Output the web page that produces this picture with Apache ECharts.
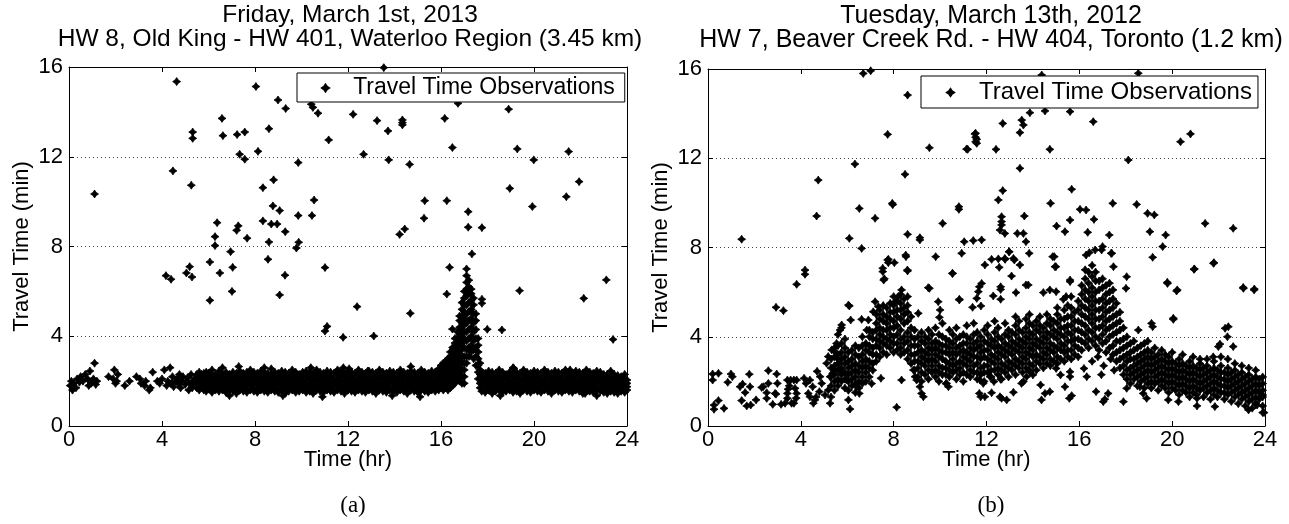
<!DOCTYPE html>
<html>
<head>
<meta charset="utf-8">
<script src="https://cdn.jsdelivr.net/npm/echarts@6.0.0/dist/echarts.min.js"></script>
<style>html,body{margin:0;padding:0;background:#fff}#c{width:1289px;height:524px}</style>
</head>
<body>
<div id="c"></div>
<script>
// ---------- tick labels ----------
const xTicks = [0, 4, 8, 12, 16, 20, 24];
const yTicks = [0, 4, 8, 12, 16];
const titleA = 'Friday, March 1st, 2013\nHW 8, Old King - HW 401, Waterloo Region (3.45 km)';
const titleB = 'Tuesday, March 13th, 2012\nHW 7, Beaver Creek Rd. - HW 404, Toronto (1.2 km)';
const seriesName = 'Travel Time Observations';

// ---------- panel (a) values: [hr, min] ----------
const sparseA = [[0.05,1.8],[0.1,2.0],[0.15,1.6],[0.2,1.9],[0.3,1.7],[0.35,2.1],[0.45,1.95],[0.5,2.2],[0.6,2.0],[0.7,2.3],[0.8,2.1],[0.85,1.8],[0.9,2.45],[0.95,1.9],[1.0,2.0],[1.05,2.1],[1.1,2.8],[1.15,1.85],[1.2,2.0],[1.7,2.2],[1.9,2.1],[1.95,2.5],[2.0,1.9],[2.05,2.0],[2.1,2.3],[2.4,1.8],[2.6,2.0],[2.9,2.2],[3.05,2.1],[3.1,1.9],[3.25,1.8],[3.3,2.0],[3.45,1.6],[3.5,1.7],[3.6,2.4],[3.8,2.0],[3.9,1.9],[4.0,2.1],[4.1,2.5],[4.2,1.8],[4.25,2.0],[4.35,2.6],[4.4,1.9],[4.45,2.2],[4.5,1.75],[4.6,2.0],[4.65,2.1],[4.7,1.9],[4.75,2.3],[4.8,1.7],[4.85,2.0],[4.9,2.2],[5.0,1.85],[5.05,2.0],[5.1,2.15],[5.15,1.6],[5.2,1.9],[5.25,2.3],[5.3,1.7],[5.35,2.0],[5.4,2.1],[5.45,1.8]];
// rows: [hr, value, value, ...]
const bandA = [
[5.5,1.7,1.9,2.1,2.3],[5.6,1.6,1.8,2.0,2.2,2.4],[5.7,1.75,1.95,2.1,2.3],[5.8,1.6,1.8,1.95,2.15,2.35],[5.9,1.55,1.7,1.9,2.05,2.25,2.4],[6.0,1.65,1.85,2.0,2.2,2.35],
[6.15,1.5,1.7,1.9,2.1,2.3,2.5],[6.3,1.6,1.75,1.95,2.15,2.3],[6.45,1.55,1.7,1.9,2.0,2.2,2.45],[6.6,1.6,1.8,1.95,2.1,2.3,2.6],[6.75,1.5,1.7,1.85,2.05,2.25,2.4],[6.9,1.6,1.75,1.95,2.1,2.3],
[7.05,1.55,1.7,1.9,2.05,2.2,2.4],[7.2,1.45,1.65,1.8,2.0,2.15,2.35],[7.35,1.6,1.75,1.9,2.1,2.25,2.45],[7.5,1.55,1.7,1.85,2.05,2.2,2.35],[7.65,1.5,1.65,1.85,2.0,2.2,2.4],[7.8,1.6,1.8,1.95,2.1,2.3,2.5],
[7.95,1.55,1.7,1.9,2.05,2.25,2.4],[8.1,1.5,1.65,1.85,2.0,2.15,2.35],[8.25,1.6,1.75,1.9,2.1,2.25,2.45],[8.4,1.55,1.7,1.85,2.0,2.2,2.4],[8.55,1.5,1.65,1.85,2.05,2.2,2.35],[8.7,1.6,1.75,1.9,2.1,2.3,2.55],
[8.85,1.55,1.7,1.9,2.05,2.2,2.4],[9.0,1.5,1.65,1.85,2.0,2.2,2.35],[9.15,1.6,1.8,1.95,2.1,2.3,2.45],[9.3,1.45,1.7,1.85,2.05,2.2,2.4],[9.45,1.55,1.7,1.9,2.0,2.15,2.35],[9.6,1.6,1.75,1.9,2.1,2.25,2.5],
[9.75,1.5,1.65,1.85,2.05,2.2,2.4],[9.9,1.55,1.75,1.9,2.1,2.3],[10.05,1.6,1.7,1.85,2.0,2.2,2.4],[10.2,1.5,1.65,1.85,2.05,2.25,2.45],[10.35,1.55,1.75,1.9,2.1,2.25,2.4],[10.5,1.45,1.6,1.8,2.0,2.15,2.35],
[10.65,1.6,1.75,1.95,2.1,2.3,2.5],[10.8,1.55,1.7,1.85,2.05,2.2,2.4],[10.95,1.5,1.65,1.85,2.0,2.2,2.35],[11.1,1.6,1.75,1.9,2.1,2.25,2.45],[11.25,1.55,1.7,1.9,2.05,2.2,2.4],[11.4,1.5,1.65,1.85,2.0,2.15,2.35],
[11.55,1.6,1.8,1.95,2.1,2.3,2.5],[11.7,1.55,1.7,1.85,2.05,2.25,2.4],[11.85,1.45,1.65,1.8,2.0,2.2,2.35],[12.0,1.6,1.75,1.9,2.1,2.25,2.45],[12.15,1.55,1.7,1.9,2.05,2.2,2.4],[12.3,1.5,1.65,1.85,2.0,2.15,2.35],
[12.45,1.6,1.75,1.95,2.1,2.3,2.5],[12.6,1.55,1.7,1.85,2.05,2.2,2.4],[12.75,1.5,1.65,1.85,2.0,2.2,2.35],[12.9,1.6,1.8,1.95,2.1,2.3,2.45],[13.05,1.55,1.7,1.9,2.05,2.25,2.4],[13.2,1.45,1.65,1.8,2.0,2.15,2.35],
[13.35,1.6,1.75,1.9,2.1,2.25,2.5],[13.5,1.55,1.7,1.85,2.05,2.2,2.4],[13.65,1.5,1.65,1.85,2.0,2.2,2.35],[13.8,1.6,1.75,1.95,2.1,2.3,2.45],[13.95,1.55,1.7,1.9,2.05,2.2,2.4],[14.1,1.5,1.65,1.85,2.0,2.15,2.35],
[14.25,1.6,1.8,1.95,2.1,2.3,2.5],[14.4,1.55,1.7,1.85,2.05,2.25,2.4],[14.55,1.45,1.65,1.8,2.0,2.2,2.35],[14.7,1.6,1.75,1.9,2.1,2.25,2.45],[14.85,1.55,1.7,1.9,2.05,2.2,2.4],[15.0,1.5,1.65,1.85,2.0,2.15,2.35],
[15.15,1.6,1.75,1.95,2.1,2.3,2.5],[15.3,1.55,1.7,1.85,2.05,2.2,2.4],[15.45,1.5,1.65,1.85,2.0,2.2,2.35],[15.6,1.6,1.8,1.95,2.1,2.3,2.45],[15.75,1.55,1.7,1.9,2.05,2.25,2.4],[15.9,1.6,1.75,1.9,2.1,2.3,2.55],
[17.75,1.55,1.7,1.9,2.05,2.2,2.4],[17.9,1.5,1.65,1.85,2.0,2.2,2.35],[18.05,1.6,1.75,1.95,2.1,2.3,2.45],[18.2,1.45,1.7,1.85,2.05,2.2,2.4],[18.35,1.55,1.7,1.9,2.0,2.15,2.35],[18.5,1.6,1.75,1.9,2.1,2.25,2.5],
[18.65,1.5,1.65,1.85,2.05,2.2,2.4],[18.8,1.55,1.75,1.9,2.1,2.3],[18.95,1.6,1.7,1.85,2.0,2.2,2.4],[19.1,1.5,1.65,1.85,2.05,2.25,2.45],[19.25,1.55,1.75,1.9,2.1,2.25,2.4],[19.4,1.45,1.6,1.8,2.0,2.15,2.35],
[19.55,1.6,1.75,1.95,2.1,2.3,2.5],[19.7,1.55,1.7,1.85,2.05,2.2,2.4],[19.85,1.5,1.65,1.85,2.0,2.2,2.35],[20.0,1.6,1.75,1.9,2.1,2.25,2.45],[20.15,1.55,1.7,1.9,2.05,2.2,2.4],[20.3,1.5,1.65,1.85,2.0,2.15,2.35],
[20.45,1.6,1.8,1.95,2.1,2.3,2.5],[20.6,1.55,1.7,1.85,2.05,2.25,2.4],[20.75,1.45,1.65,1.8,2.0,2.2,2.35],[20.9,1.6,1.75,1.9,2.1,2.25,2.45],[21.05,1.55,1.7,1.9,2.05,2.2,2.4],[21.2,1.5,1.65,1.85,2.0,2.15,2.35],
[21.35,1.6,1.75,1.95,2.1,2.3,2.5],[21.5,1.55,1.7,1.85,2.05,2.2,2.4],[21.65,1.5,1.65,1.85,2.0,2.2,2.35],[21.8,1.6,1.8,1.95,2.1,2.3,2.45],[21.95,1.55,1.7,1.9,2.05,2.25,2.4],[22.1,1.45,1.65,1.8,2.0,2.15,2.35],
[22.25,1.6,1.75,1.9,2.1,2.25,2.5],[22.4,1.55,1.7,1.85,2.05,2.2,2.4],[22.55,1.5,1.65,1.85,2.0,2.2,2.35],[22.7,1.6,1.75,1.95,2.1,2.3,2.45],[22.85,1.55,1.7,1.9,2.05,2.2,2.4],[23.0,1.5,1.65,1.85,2.0,2.15,2.3],
[23.15,1.45,1.6,1.8,1.95,2.1,2.3],[23.3,1.55,1.7,1.85,2.0,2.2,2.45],[23.45,1.5,1.65,1.8,1.95,2.1,2.3],[23.6,1.45,1.6,1.75,1.9,2.05,2.25],[23.75,1.55,1.7,1.85,2.0,2.2],[23.9,1.5,1.65,1.8,1.95,2.1,2.3],[24.0,1.6,1.75,1.9,2.05]
];
const bandExtraA = [[11.8,2.6],[12.05,2.55],[12.85,2.45],[15.1,1.3],[18.55,1.35],[19.1,2.6],[21.55,2.5],[22.2,1.45],[22.7,1.35],[9.2,1.35],[10.4,2.6],[7.3,2.65],[8.4,2.6],[13.9,1.35],[6.9,1.35],[14.7,2.65],[10.9,1.3]];
const peakA = [
[16.0,1.7,1.9,2.1,2.3,2.5,2.7],[16.1,1.6,1.8,2.0,2.2,2.4,2.6,2.8],[16.2,1.7,1.9,2.1,2.3,2.6,2.9],[16.3,1.6,1.8,2.0,2.2,2.4,2.7,3.0],
[16.4,1.7,1.9,2.1,2.3,2.5,2.8,3.1,3.3],[16.5,1.8,2.0,2.3,2.6,2.9,3.2,3.5],[16.6,1.9,2.2,2.5,2.8,3.1,3.4,3.7,3.9],[16.7,2.1,2.4,2.7,3.0,3.3,3.6,3.9,4.2],
[16.8,2.0,2.3,2.6,2.9,3.2,3.5,3.8,4.1,4.4,4.7,4.9],[16.9,1.9,2.2,2.5,2.8,3.1,3.4,3.7,4.0,4.3,4.6,4.9,5.2,5.5],[17.0,1.9,2.2,2.5,2.8,3.1,3.5,3.9,4.2,4.5,4.8,5.1,5.4,5.7,6.0],
[17.1,2.8,3.1,3.4,3.8,4.2,4.6,5.0,5.4,5.8,6.1,6.4,6.7,7.0],[17.2,3.1,3.5,3.9,4.3,4.7,5.1,5.5,5.9,6.2,6.5],[17.3,3.3,3.6,4.0,4.4,4.8,5.2,5.6,5.9,6.1],
[17.4,3.0,3.4,3.8,4.2,4.6,5.0,5.4,5.7],[17.5,2.7,3.1,3.5,3.9,4.3,4.7,5.0],[17.6,2.1,2.4,2.7,3.0,3.3,3.6,3.9],[17.68,1.7,1.9,2.1,2.3,2.5,2.8]
];
const outA = [[1.1,10.34],[4.63,15.35],[4.47,11.37],[4.17,6.7],[4.39,6.54],[5.05,6.82],[5.19,7.1],[5.29,6.64],[5.26,10.73],[5.32,13.1],[5.32,12.82],[6.06,5.6],[6.06,7.31],[6.28,8.04],[6.28,8.44],[6.37,9.06],[6.49,6.82],[6.58,13.71],[6.62,12.94],[6.95,7.77],[7.04,7.07],[7.01,6.0],[7.21,8.72],[7.28,8.92],[7.23,12.99],[7.34,12.11],[7.56,11.89],[7.56,13.1],[7.66,8.37],[8.04,15.13],[8.13,12.24],[8.34,10.62],[8.34,9.14],[8.6,13.25],[8.6,8.2],[8.56,7.43],[8.77,9.81],[8.8,10.97],[8.7,9.0],[8.95,9.0],[8.99,14.53],[9.06,9.6],[9.06,5.84],[9.29,6.72],[9.3,8.66],[9.32,14.15],[9.78,7.93],[9.88,8.19],[9.86,9.38],[9.86,11.74],[10.45,9.38],[10.54,10.07],[10.42,14.34],[10.49,14.2],[10.71,13.94],[11.01,7.06],[11.01,4.23],[11.1,4.44],[11.17,12.75],[12.22,13.89],[12.67,12.11],[12.39,5.32],[11.79,3.95],[13.11,4.01],[13.25,13.61],[13.54,15.97],[13.72,13.15],[13.75,11.86],[14.34,13.64],[14.34,13.52],[14.34,13.42],[14.22,8.54],[14.44,8.78],[14.65,11.66],[14.68,5.02],[15.3,10.04],[15.27,9.26],[16.16,13.71],[16.25,10.04],[16.49,12.41],[16.37,7.07],[16.25,5.88],[16.49,4.32],[16.73,14.38],[17.33,7.67],[17.17,9.55],[17.17,8.86],[17.76,8.84],[17.76,5.47],[17.76,5.65],[17.99,4.31],[18.62,4.28],[18.91,14.12],[18.96,10.59],[19.28,12.35],[19.38,6.03],[19.13,2.57],[19.99,11.86],[19.93,9.78],[21.39,10.22],[21.49,12.23],[21.94,10.89],[22.14,5.69],[23.11,6.51],[23.4,3.86]];

// ---------- panel (b) values ----------
const sparseB = [[0.2,2.33],[0.2,2.06],[0.45,2.36],[0.26,0.94],[0.26,0.75],[0.45,1.14],[0.69,0.79],[0.85,1.96],[0.99,2.33],[1.05,2.21],[1.38,1.76],[1.49,1.88],[1.6,1.5],[1.67,0.9],[1.78,2.32],[1.81,1.76],[1.45,1.14],[1.84,0.94],[2.07,1.17],[2.31,1.73],[2.38,1.76],[2.6,2.48],[2.6,1.91],[2.53,1.49],[2.53,1.24],[2.79,0.97],[2.89,1.46],[2.96,2.33],[2.99,1.91],[2.93,1.43],[3.15,0.97],[3.32,1.02],[3.42,2.06],[3.56,2.06],[3.7,2.06],[3.82,2.06],[3.42,1.46],[3.42,1.24],[3.6,1.02],[3.7,1.02],[3.75,1.69],[3.82,1.46],[3.5,1.8],[3.45,1.65],[3.8,1.25],[4.14,2.14],[4.22,1.91],[4.39,2.06],[4.51,1.76],[4.32,1.46],[4.39,1.31],[4.61,1.17],[4.54,1.02],[4.8,1.54],[4.83,2.21],[4.9,1.91],[4.7,2.45],[4.66,1.3],[5.04,1.39],[5.18,1.61],[5.26,1.02],[5.26,2.21],[5.37,2.36],[5.47,2.51],[5.11,2.81],[5.18,3.11],[5.33,3.41],[5.54,3.7],[5.47,3.33],[5.57,3.03],[5.69,4.3],[5.76,4.53],[5.62,2.81],[5.69,2.51],[5.97,2.06],[6.05,1.17],[6.12,0.76],[6.15,4.75]];
const cloudB = [
[5.3,1.3,1.8,2.2,2.6,3.0],[5.45,1.6,2.0,2.3,2.7,3.1,3.5],[5.6,1.8,2.1,2.5,2.8,3.2,3.6,4.1],[5.75,2.0,2.3,2.6,3.0,3.3,3.7,4.4],[5.9,1.7,2.1,2.4,2.8,3.1,3.5,3.9],
[6.05,1.6,2.0,2.3,2.6,2.9,3.3],[6.2,1.8,2.1,2.4,2.7,3.0,3.4],[6.35,1.5,1.9,2.2,2.5,2.8,3.2,3.6],[6.5,1.7,2.0,2.4,2.7,3.1,3.5],[6.65,1.9,2.2,2.6,2.9,3.2,3.6,4.0],
[6.8,2.0,2.4,2.7,3.0,3.4,3.7],[6.95,2.2,2.6,2.9,3.3,3.6,4.0,4.3],[7.1,2.5,2.8,3.2,3.5,3.9,4.2],[7.25,2.9,3.2,3.6,3.9,4.3,4.6,5.0],[7.4,3.1,3.5,3.8,4.1,4.4,4.8,5.2],
[7.55,3.3,3.7,4.0,4.3,4.7,5.0,5.4],[7.7,3.2,3.6,3.9,4.3,4.6,4.9,5.3],[7.85,3.5,3.8,4.1,4.4,4.8,5.1,5.5],[8.0,3.3,3.7,4.0,4.4,4.7,5.1,5.4,5.8],[8.15,3.4,3.7,4.1,4.5,4.9,5.2,5.6],
[8.3,3.2,3.5,3.9,4.3,4.8,5.2,5.5,5.9],[8.45,3.3,3.7,4.0,4.6,5.0,5.3,5.7],[8.6,3.0,3.4,3.8,4.2,4.7,5.1,5.4,5.8],[8.75,2.8,3.2,3.6,4.0,4.4,4.9],[8.9,2.5,2.9,3.2,3.6,3.9,4.3],
[9.05,2.2,2.6,2.9,3.3,3.6,4.0],[9.2,2.0,2.4,2.8,3.1,3.4,3.8,4.2],[9.35,2.3,2.7,3.0,3.3,3.7,4.0],[9.5,2.1,2.5,2.9,3.2,3.5,3.9,4.3],[9.65,2.4,2.7,3.0,3.4,3.7,4.1],
[9.8,2.2,2.5,2.9,3.2,3.5,3.8,4.4],[9.95,2.0,2.4,2.7,3.1,3.4,3.7,4.1],[10.1,2.3,2.6,3.0,3.3,3.6,4.0,4.6],[10.25,1.9,2.3,2.6,2.9,3.3,3.6,3.9],[10.4,2.2,2.5,2.8,3.2,3.5,3.8,4.3],
[10.55,2.4,2.7,3.0,3.3,3.7,4.1],[10.7,2.1,2.5,2.8,3.2,3.5,3.9,4.4],[10.85,2.3,2.6,2.9,3.3,3.6,4.0],[11.0,2.0,2.4,2.8,3.1,3.4,3.7,4.1],[11.15,2.3,2.7,3.0,3.3,3.7,4.0,4.5],
[11.3,2.2,2.5,2.9,3.2,3.5,3.9],[11.45,2.4,2.7,3.1,3.4,3.7,4.1,4.6],[11.6,2.1,2.4,2.8,3.1,3.5,3.8,4.2],[11.75,2.3,2.6,3.0,3.3,3.6,4.0],[11.9,2.0,2.4,2.7,3.1,3.4,3.8,4.3],
[12.05,2.4,2.7,3.0,3.4,3.7,4.1,4.5],[12.2,2.2,2.5,2.9,3.2,3.6,3.9],[12.35,2.5,2.8,3.1,3.5,3.8,4.2,4.7],[12.5,2.3,2.6,3.0,3.3,3.6,4.0,4.4],[12.65,2.1,2.5,2.8,3.2,3.5,3.9],
[12.8,2.4,2.7,3.1,3.4,3.7,4.1,4.6],[12.95,2.2,2.6,2.9,3.3,3.6,4.0,4.3],[13.1,2.5,2.8,3.2,3.5,3.8,4.2],[13.25,2.3,2.7,3.0,3.4,3.7,4.1,4.5,4.9],[13.4,2.6,2.9,3.3,3.6,3.9,4.3,4.7],
[13.55,2.4,2.8,3.1,3.5,3.8,4.2],[13.7,2.6,3.0,3.3,3.7,4.0,4.4,4.8],[13.85,2.5,2.8,3.2,3.5,3.9,4.2,4.6,5.0],[14.0,2.7,3.1,3.4,3.7,4.1,4.5],[14.15,2.5,2.9,3.2,3.6,3.9,4.3,4.7],
[14.3,2.8,3.1,3.5,3.8,4.2,4.5,4.9],[14.45,2.6,3.0,3.3,3.7,4.0,4.4],[14.6,2.8,3.2,3.5,3.9,4.2,4.6,5.0],[14.75,2.7,3.0,3.4,3.7,4.1,4.5,4.8],[14.9,2.9,3.3,3.6,4.0,4.3,4.7],
[15.05,2.8,3.1,3.5,3.9,4.2,4.6,5.0,5.3],[15.2,3.0,3.4,3.7,4.1,4.4,4.8],[15.35,2.9,3.3,3.6,4.0,4.4,4.8,5.2],[15.5,3.1,3.4,3.8,4.2,4.5,4.9,5.4],[15.65,3.0,3.4,3.8,4.1,4.5,4.9,5.3,5.8],
[15.8,3.2,3.6,3.9,4.3,4.7,5.1],[15.95,3.1,3.5,3.9,4.3,4.7,5.2,5.6],[16.1,3.4,3.8,4.2,4.6,5.0,5.4,5.9,6.3],[16.25,3.7,4.1,4.5,4.9,5.3,5.7,6.1,6.6,7.0],[16.4,3.5,3.9,4.3,4.8,5.2,5.6,6.0,6.4,6.9],
[16.55,3.8,4.2,4.6,5.0,5.4,5.8,6.2,6.7,7.2],[16.7,3.6,4.0,4.4,4.8,5.2,5.6,6.0,6.5,6.9],[16.85,3.4,3.9,4.4,4.8,5.2,5.6,6.1,6.5],[17.0,3.7,4.1,4.5,4.9,5.3,5.7,6.2,6.6],[17.15,3.3,3.8,4.3,4.7,5.1,5.5,5.9,6.3],
[17.3,3.5,4.0,4.4,4.8,5.2,5.6,6.0,6.4],[17.45,3.2,3.6,4.1,4.5,4.9,5.3,5.7,6.1],[17.6,2.9,3.3,3.8,4.2,4.6,5.0,5.5],[17.75,2.6,3.0,3.4,3.8,4.3,4.7,5.1],[17.9,2.3,2.7,3.1,3.5,3.9,4.4],
[18.05,2.1,2.5,2.9,3.2,3.6,4.0],[18.2,1.9,2.3,2.6,3.0,3.3,3.7],[18.35,2.1,2.4,2.7,3.0,3.4,3.8],[18.5,1.8,2.2,2.5,2.8,3.1,3.5],[18.65,2.0,2.3,2.6,2.9,3.2,3.6],
[18.8,1.7,2.1,2.4,2.7,3.0,3.3,3.7],[18.95,1.9,2.2,2.5,2.8,3.1,3.4,3.8],[19.1,1.7,2.0,2.4,2.7,3.0,3.3],[19.25,1.9,2.2,2.5,2.8,3.1,3.5],[19.4,1.6,2.0,2.3,2.6,2.9,3.2],
[19.55,1.8,2.1,2.4,2.7,3.0,3.4],[19.7,1.7,2.0,2.3,2.6,2.9,3.2],[19.85,1.5,1.9,2.2,2.5,2.8,3.1],[20.0,1.7,2.0,2.3,2.6,2.9,3.3],[20.15,1.6,1.9,2.2,2.5,2.8],
[20.3,1.4,1.8,2.1,2.4,2.7,3.0],[20.45,1.6,1.9,2.2,2.5,2.8,3.2],[20.6,1.5,1.8,2.1,2.4,2.7],[20.75,1.3,1.7,2.0,2.3,2.6,2.9],[20.9,1.5,1.8,2.1,2.4,2.7,3.1],
[21.05,1.4,1.7,2.0,2.3,2.6],[21.2,1.6,1.9,2.2,2.5,2.8,3.0],[21.35,1.3,1.7,2.0,2.3,2.6],[21.5,1.5,1.8,2.1,2.4,2.7,3.0],[21.65,1.2,1.6,1.9,2.2,2.5],
[21.8,1.4,1.7,2.0,2.3,2.6,2.9],[21.95,1.3,1.6,1.9,2.2,2.5],[22.1,1.5,1.8,2.1,2.4,2.7,3.1],[22.25,1.2,1.5,1.8,2.1,2.4],[22.4,1.4,1.7,2.0,2.3,2.6,3.0],
[22.55,1.1,1.5,1.8,2.1,2.4],[22.7,1.3,1.6,1.9,2.2,2.5,2.8],[22.85,1.0,1.4,1.7,2.0,2.3],[23.0,1.2,1.5,1.8,2.1,2.4,2.7],[23.15,0.9,1.3,1.6,1.9,2.2],
[23.3,1.1,1.4,1.7,2.0,2.3,2.6],[23.45,0.8,1.2,1.5,1.8,2.1],[23.6,1.0,1.3,1.6,1.9,2.2,2.5],[23.75,1.2,1.5,1.8,2.1],[23.9,0.6,0.9,1.3,1.6,1.9,2.2]
];
const midB = [[11.93,7.22],[12.22,7.47],[12.55,7.11],[12.8,7.47],[12.97,7.81],[13.16,7.51],[13.2,7.44],[13.44,7.22],[13.08,6.72],[13.7,6.32],[12.61,6.24],[12.61,6.12],[13.27,5.98],[12.29,5.83],[12.61,5.68],[13.84,7.74],[14.85,7.59],[14.95,7.14],[14.45,5.98],[14.73,6.1],[15.0,6.02],[15.6,6.54],[15.6,6.47],[15.31,5.68],[15.43,5.8],[16.29,7.66],[16.43,7.77],[16.68,7.89],[17.0,8.04],[17.4,7.74],[17.47,7.14],[18.04,6.69],[18.01,6.17],[18.54,4.3],[19.11,4.6],[19.16,4.45],[19.8,6.39],[20.19,6.05],[20.05,4.78],[20.94,7.02],[21.78,7.29],[22.28,4.38],[22.42,4.45],[22.38,4.0],[22.06,3.67],[23.07,6.17],[23.53,6.1],[23.9,1.39],[23.96,0.6],[23.29,0.72],[23.66,0.94],[22.63,3.56],[21.77,3.1],[21.99,3.56],[21.07,1.24],[21.07,0.9],[21.84,0.87],[20.27,1.09],[19.83,1.17],[18.9,1.24],[18.61,1.76],[18.75,1.46],[17.9,1.09],[18.04,1.69],[17.03,1.09],[17.1,1.2],[17.24,1.46],[16.72,1.54],[16.32,2.21],[16.2,2.58],[15.6,2.21],[15.6,2.43],[15.0,2.58],[15.19,2.29],[14.52,1.46],[14.37,1.17],[14.73,1.54],[13.87,2.43],[14.0,2.29],[13.73,2.21],[12.87,1.17],[13.16,1.51],[12.61,2.09],[12.32,1.99],[12.15,2.21],[12.58,1.31],[12.65,1.24],[12.22,1.49],[11.93,1.31],[13.51,1.91],[13.59,1.99],[14.33,1.84],[15.38,1.76],[15.57,1.24],[15.67,1.36],[7.53,7.07],[7.53,6.92],[7.57,6.54],[7.6,6.6],[7.77,7.47],[7.77,7.32],[8.03,7.32],[8.52,7.66],[8.59,6.99],[9.49,6.2],[10.53,6.84],[10.83,5.68],[6.05,5.42],[11.58,5.72],[11.65,6.02],[11.69,6.24],[11.79,6.39],[11.4,5.32],[11.76,5.38],[9.06,5.05],[9.92,5.57],[10.0,5.2],[9.97,4.87],[7.12,5.12],[7.2,5.57],[7.34,5.35],[6.84,4.3],[6.91,4.75],[8.99,2.06],[9.13,1.76],[9.2,1.46],[9.28,1.31],[8.85,2.51],[8.92,2.21],[10.28,1.91],[10.36,1.76],[11.69,1.46],[11.75,1.31],[11.72,2.06],[11.86,1.91],[7.45,2.14],[8.34,2.06],[6.4,1.76],[6.52,1.46],[7.05,1.9],[8.34,6.1],[8.2,5.8],[8.06,5.57],[16.55,2.9],[16.8,3.1],[17.05,2.7],[17.35,3.0],[16.95,2.3],[17.5,2.5]];
const outB = [[1.45,8.37],[2.93,5.32],[3.25,5.17],[3.82,6.35],[4.18,6.99],[4.18,6.8],[4.68,9.41],[4.75,11.02],[6.09,8.41],[6.09,5.38],[6.33,11.74],[6.52,9.75],[6.62,7.96],[6.62,4.78],[6.69,15.8],[7.01,15.92],[7.2,9.31],[7.74,13.07],[7.74,7.44],[7.94,9.98],[7.96,9.92],[8.13,0.84],[8.49,11.28],[8.53,7.59],[8.6,6.95],[8.6,8.59],[8.6,14.83],[9.13,8.44],[9.13,8.34],[9.54,12.47],[9.54,6.17],[9.81,7.59],[10.11,9.08],[10.54,6.84],[10.83,5.65],[10.81,9.83],[10.81,9.71],[10.93,7.74],[11.04,8.26],[11.19,12.4],[11.5,13.09],[11.58,12.85],[11.58,12.67],[14.38,15.73],[18.54,15.81],[13.87,14.04],[14.52,14.12],[15.6,14.09],[12.7,13.56],[13.52,13.71],[13.59,13.49],[13.44,13.15],[16.6,13.64],[11.53,13.12],[11.53,12.94],[11.53,12.74],[11.14,12.41],[12.41,12.4],[14.73,12.4],[18.11,11.92],[20.36,12.74],[20.79,13.09],[13.44,11.55],[12.7,10.55],[12.51,10.13],[15.67,10.61],[14.76,9.98],[16.03,9.71],[16.29,9.68],[17.44,9.98],[18.47,9.93],[18.94,9.53],[19.23,9.46],[16.63,9.26],[15.6,9.23],[15.02,8.96],[15.38,8.71],[16.36,8.68],[17.29,8.56],[19.04,8.71],[19.72,8.56],[21.42,9.08],[22.63,8.86],[12.65,9.38],[12.65,9.16],[12.65,9.01],[12.58,8.78],[12.79,8.63],[13.63,9.41],[13.33,8.63],[13.59,8.63],[13.7,8.26],[11.43,8.31],[11.79,8.34],[19.59,8.04],[16.96,7.89],[17.37,7.74],[19.16,7.56],[12.98,7.81],[12.79,7.51],[12.51,7.49],[13.8,6.32],[14.92,7.59],[14.99,7.14],[20.96,7.04],[21.8,7.32],[23.06,6.21],[23.54,6.14],[19.79,6.44],[20.22,6.1],[20.05,4.83]];

// ---------- build ----------
function expand(rows) {
  const out = [];
  rows.forEach(r => { for (let i = 1; i < r.length; i++) out.push([r[0], r[i]]); });
  return out;
}
const dataA = [].concat(sparseA, expand(bandA), bandExtraA, expand(peakA), outA);
const dataB = [].concat(sparseB, expand(cloudB), midB, outB);

const FONT = '"Liberation Sans", Arial, sans-serif';
const mark = 'path://M0,-10L4,-4L10,0L4,4L0,10L-4,4L-10,0L-4,-4Z';

function xAxes(gi) {
  const base = { type: 'value', gridIndex: gi, min: xTicks[0], max: xTicks[xTicks.length - 1], interval: 4,
    axisLine: { show: true, onZero: false, lineStyle: { color: '#000', width: 1 } },
    axisTick: { show: true, inside: true, length: 5, lineStyle: { color: '#000' } },
    splitLine: { show: false } };
  return [
    Object.assign({}, base, { position: 'bottom',
      axisLabel: { show: true, margin: 3, color: '#000', fontSize: 22, fontFamily: FONT },
      name: 'Time (hr)', nameLocation: 'middle', nameGap: 23, nameMoveOverlap: false,
      nameTextStyle: { color: '#000', fontSize: 22, fontFamily: FONT } }),
    Object.assign({}, base, { position: 'top', axisLabel: { show: false } })
  ];
}
function yAxes(gi) {
  const base = { type: 'value', gridIndex: gi, min: yTicks[0], max: yTicks[yTicks.length - 1], interval: 4,
    axisLine: { show: true, onZero: false, lineStyle: { color: '#000', width: 1 } },
    axisTick: { show: true, inside: true, length: 5, lineStyle: { color: '#000' } } };
  return [
    Object.assign({}, base, { position: 'left',
      axisLabel: { show: true, margin: 6, color: '#000', fontSize: 22, fontFamily: FONT },
      splitLine: { show: true, lineStyle: { color: '#444', type: [1, 3], width: 1 } },
      name: 'Travel Time (min)', nameLocation: 'middle', nameGap: 36, nameMoveOverlap: false,
      nameTextStyle: { color: '#000', fontSize: 22, fontFamily: FONT } }),
    Object.assign({}, base, { position: 'right', axisLabel: { show: false }, splitLine: { show: false } })
  ];
}
function legend(left, top, fs, pad) {
  return { left: left, top: top, orient: 'horizontal', backgroundColor: '#fff', borderColor: '#000', borderWidth: 1,
    padding: pad, itemWidth: 7, itemHeight: 7, icon: mark, selectedMode: false,
    data: [{ name: seriesName, icon: mark, itemStyle: { color: '#000' } }],
    formatter: '   {name}', textStyle: { color: '#000', fontSize: fs, fontFamily: FONT, lineHeight: fs + 1 } };
}
const titleStyleA = { color: '#000', fontSize: 24.5, fontWeight: 'normal', fontFamily: FONT, lineHeight: 24 };
const titleStyleB = { color: '#000', fontSize: 25, fontWeight: 'normal', fontFamily: FONT, lineHeight: 24 };
const capStyle = { color: '#000', fontSize: 23, fontWeight: 'normal', fontFamily: '"Liberation Serif", "Times New Roman", serif' };

const chart = echarts.init(document.getElementById('c'), null, { renderer: 'canvas' });
chart.setOption({
  animation: false,
  backgroundColor: '#fff',
  title: [
    { text: titleA, left: 345, top: -2, textAlign: 'center', textStyle: titleStyleA },
    { text: titleB, left: 986, top: -1, textAlign: 'center', textStyle: titleStyleB },
    { text: '(a)', left: 348, top: 489, textAlign: 'center', textStyle: capStyle },
    { text: '(b)', left: 986, top: 489, textAlign: 'center', textStyle: capStyle }
  ],
  legend: [legend(297, 73, 23, [3, 10, 2, 24]), legend(921, 76, 24, [4, 6, 3, 25])],
  grid: [
    { left: 69, top: 67, width: 558, height: 359 },
    { left: 708, top: 69, width: 557, height: 357 }
  ],
  xAxis: [].concat(xAxes(0), xAxes(1)),
  yAxis: [].concat(yAxes(0), yAxes(1)),
  series: [
    { type: 'scatter', name: seriesName, xAxisIndex: 0, yAxisIndex: 0, data: dataA, symbol: mark, symbolSize: 8,
      itemStyle: { color: '#000', borderColor: '#000', borderWidth: 0.8, opacity: 1 }, large: false, progressive: 0, silent: true, clip: true },
    { type: 'scatter', name: seriesName, xAxisIndex: 2, yAxisIndex: 2, data: dataB, symbol: mark, symbolSize: 8,
      itemStyle: { color: '#000', borderColor: '#000', borderWidth: 0.8, opacity: 1 }, large: false, progressive: 0, silent: true, clip: true }
  ]
});
</script>
</body>
</html>
